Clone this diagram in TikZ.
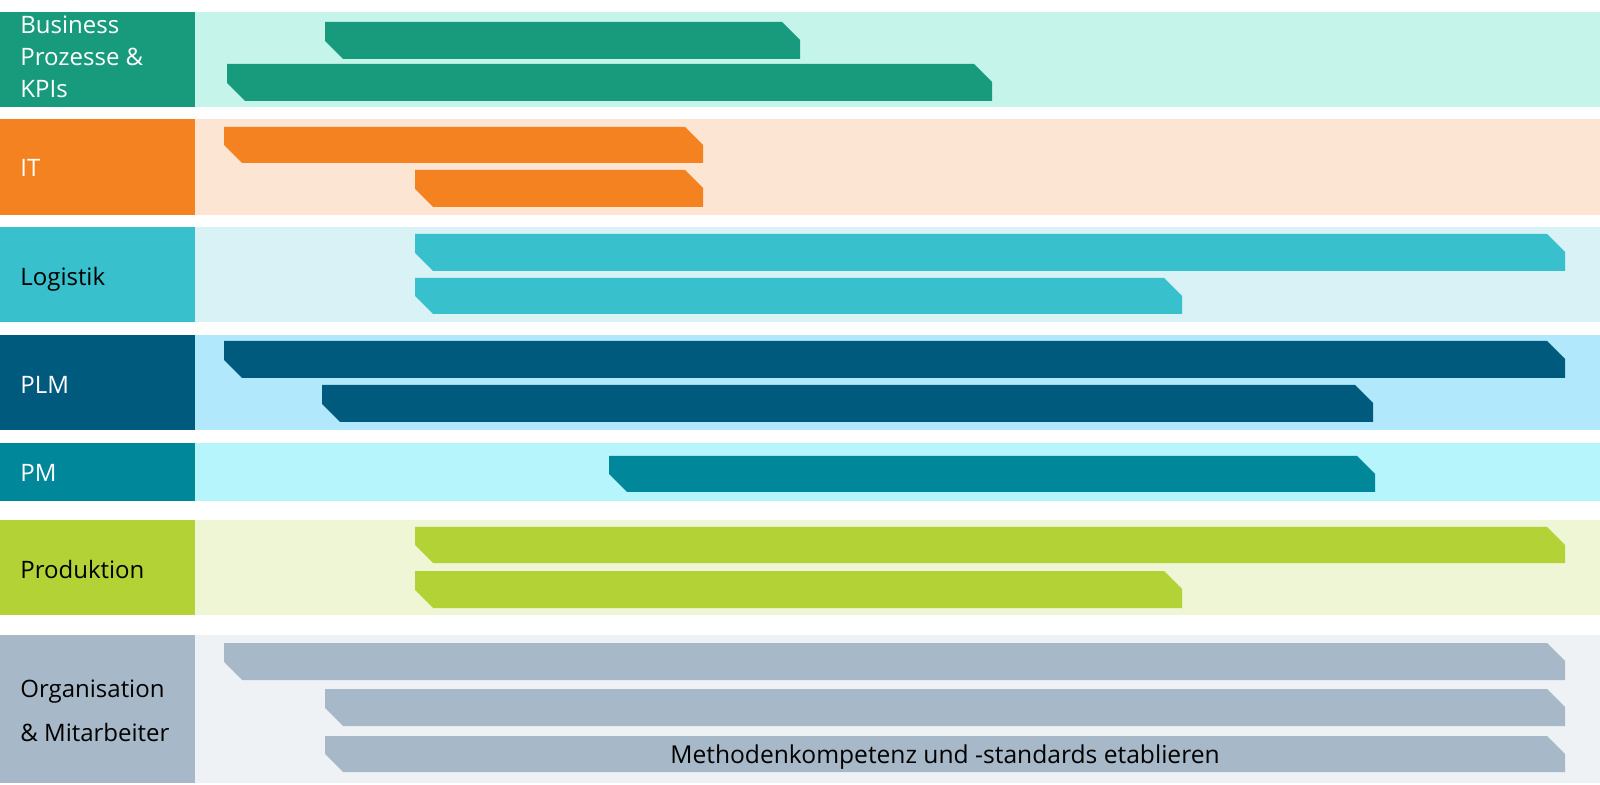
\documentclass[tikz,border=0pt]{standalone}
\usepackage{fontspec}
\setmainfont{Open Sans}
\usepackage{xcolor}
\definecolor{bpDark}{HTML}{189B7C}
\definecolor{bpLight}{HTML}{C5F5EA}
\definecolor{itDark}{HTML}{F58220}
\definecolor{itLight}{HTML}{FDE5D4}
\definecolor{logDark}{HTML}{38C0CC}
\definecolor{logLight}{HTML}{D8F2F5}
\definecolor{plmDark}{HTML}{005A7D}
\definecolor{plmLight}{HTML}{B2E8FB}
\definecolor{pmDark}{HTML}{00879A}
\definecolor{pmLight}{HTML}{B5F5FB}
\definecolor{prodDark}{HTML}{B2D235}
\definecolor{prodLight}{HTML}{EEF6D6}
\definecolor{orgDark}{HTML}{A7B9C8}
\definecolor{orgLight}{HTML}{EEF2F5}
\newcommand{\phasebar}[5]{%
  \fill[#5] (#1,#2) -- ({#3-18},#2) -- (#3,{#2+18}) -- (#3,#4) -- ({#1+18},#4) -- (#1,{#4-18}) -- cycle;}

\begin{document}
\begin{tikzpicture}[x=0.5pt, y=-0.5pt,
  rowlabel/.style={anchor=west, align=left, inner sep=0pt, font=\fontsize{12}{16}\selectfont}]
  \useasboundingbox (0,0) rectangle (1600,785);
  \fill[white] (0,0) rectangle (1600,785);
  % bands
  \fill[bpDark] (0,12) rectangle (195,107);
  \fill[bpLight] (195,12) rectangle (1600,107);
  \fill[itDark] (0,119) rectangle (195,215);
  \fill[itLight] (195,119) rectangle (1600,215);
  \fill[logDark] (0,227) rectangle (195,322);
  \fill[logLight] (195,227) rectangle (1600,322);
  \fill[plmDark] (0,335) rectangle (195,430);
  \fill[plmLight] (195,335) rectangle (1600,430);
  \fill[pmDark] (0,443) rectangle (195,501);
  \fill[pmLight] (195,443) rectangle (1600,501);
  \fill[prodDark] (0,520) rectangle (195,615);
  \fill[prodLight] (195,520) rectangle (1600,615);
  \fill[orgDark] (0,635) rectangle (195,783);
  \fill[orgLight] (195,635) rectangle (1600,783);
  % labels
  \node[rowlabel, text=white] (bp) at (20,57) {Business\\Prozesse \&\\KPIs};
  \node[rowlabel, text=white] (it) at (20,168) {IT};
  \node[rowlabel, text=black] (log) at (20,279) {Logistik};
  \node[rowlabel, text=white] (plm) at (20,385) {PLM};
  \node[rowlabel, text=white] (pm) at (20,473) {PM};
  \node[rowlabel, text=black] (prod) at (20,569) {Produktion};
  \node[rowlabel, text=black] (org) at (20,711) {Organisation\\[6pt]\& Mitarbeiter};
  % bars
  \phasebar{325}{22}{800}{59}{bpDark}
  \phasebar{227}{64}{992}{101}{bpDark}
  \phasebar{224}{127}{703}{163}{itDark}
  \phasebar{415}{170}{703}{207}{itDark}
  \phasebar{415}{234}{1565}{271}{logDark}
  \phasebar{415}{278}{1182}{314}{logDark}
  \phasebar{224}{341}{1565}{378}{plmDark}
  \phasebar{322}{385}{1373}{422}{plmDark}
  \phasebar{609}{456}{1375}{492}{pmDark}
  \phasebar{415}{527}{1565}{563}{prodDark}
  \phasebar{415}{571}{1182}{608}{prodDark}
  \phasebar{224}{643}{1565}{680}{orgDark}
  \phasebar{325}{689}{1565}{726}{orgDark}
  \phasebar{325}{736}{1565}{772}{orgDark}
  \node[inner sep=0pt, font=\fontsize{12.3}{14}\selectfont] (methods) at (945,757) {Methodenkompetenz und -standards etablieren};
\end{tikzpicture}
\end{document}
